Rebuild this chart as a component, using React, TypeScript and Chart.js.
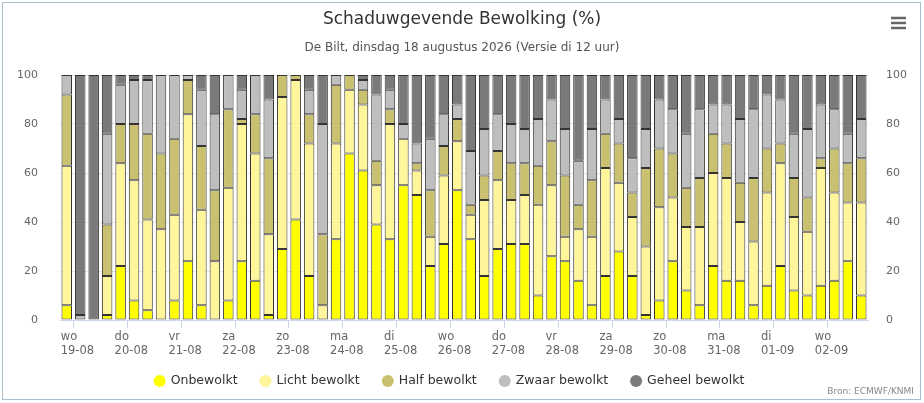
import React, { useEffect, useRef } from "react";
import { Chart, registerables } from "chart.js";
Chart.register(...registerables);

const dayLabels = ["wo", "do", "vr", "za", "zo", "ma", "di", "wo", "do", "vr", "za", "zo", "ma", "di", "wo"];
const dateLabels = ["19-08", "20-08", "21-08", "22-08", "23-08", "24-08", "25-08", "26-08", "27-08", "28-08", "29-08", "30-08", "31-08", "01-09", "02-09"];

const onbewolkt = [6,0,0,2,22,8,4,0,8,24,6,0,8,24,16,2,29,41,18,0,33,68,61,39,33,55,51,22,31,53,33,18,29,31,31,10,26,24,16,6,18,28,18,2,8,24,12,6,22,16,16,6,14,22,12,10,14,16,24,10];
const licht = [57,0,0,16,42,49,37,37,35,60,39,24,46,56,52,33,62,57,54,6,39,26,27,16,47,19,10,12,28,20,10,31,28,18,20,37,29,10,21,28,44,28,24,28,38,26,26,32,38,42,24,26,38,42,30,26,48,36,24,38];
const half = [29,0,0,21,16,23,35,31,31,14,26,29,32,2,16,31,9,2,12,29,24,6,6,10,6,0,3,19,12,9,4,10,12,15,13,16,18,25,10,23,14,16,10,32,24,18,16,20,16,14,16,26,18,8,16,14,4,18,16,18];
const zwaar = [8,2,0,37,16,18,22,32,26,2,23,31,14,12,16,24,0,0,10,45,4,0,4,27,8,6,8,21,13,6,22,19,15,16,14,19,17,19,18,21,14,10,14,16,20,18,22,28,12,16,26,28,22,18,18,28,22,16,12,16];
const geheel = onbewolkt.map((v, i) => 100 - v - licht[i] - half[i] - zwaar[i]);
const yTicks = [0, 20, 40, 60, 80, 100];

const seriesNames = ["Onbewolkt", "Licht bewolkt", "Half bewolkt", "Zwaar bewolkt", "Geheel bewolkt"];
const seriesColors = ["#ffff00", "#fff59a", "#c9c170", "#bebebe", "#7a7a7a"];
const FONT = "'DejaVu Sans', Verdana, sans-serif";

export default function App() {
  const ref = useRef<HTMLCanvasElement>(null);
  useEffect(() => {
    const values = [onbewolkt, licht, half, zwaar, geheel];
    const labels = onbewolkt.map((_, i) => String(i));
    const deco = {
      id: "deco",
      afterDraw(chart: any) {
        const c = chart.ctx;
        c.save();
        c.fillStyle = "#333";
        c.textAlign = "center";
        c.textBaseline = "middle";
        c.font = `17px ${FONT}`;
        c.fillText("Schaduwgevende Bewolking (%)", 462, 20);
        c.font = `12px ${FONT}`;
        c.fillStyle = "#555";
        c.fillText("De Bilt, dinsdag 18 augustus 2026 (Versie di 12 uur)", 462, 48);
        // menu icon
        c.strokeStyle = "#666";
        c.lineWidth = 2.5;
        for (let k = 0; k < 3; k++) {
          c.beginPath();
          c.moveTo(891, 18 + k * 5);
          c.lineTo(906, 18 + k * 5);
          c.stroke();
        }
        // legend
        c.font = `12.5px ${FONT}`;
        c.textAlign = "left";
        const widths = seriesNames.map((n) => c.measureText(n).width);
        const itemW = widths.map((w) => 17 + w);
        const gap = 22;
        const total = itemW.reduce((a, b) => a + b, 0) + gap * (itemW.length - 1);
        let x = 449 - total / 2;
        seriesNames.forEach((n, i) => {
          c.fillStyle = seriesColors[i];
          c.beginPath();
          c.arc(x + 6, 381, 6, 0, Math.PI * 2);
          c.fill();
          c.fillStyle = "#333";
          c.fillText(n, x + 17, 381);
          x += itemW[i] + gap;
        });
        c.font = `9px ${FONT}`;
        c.fillStyle = "#888";
        c.textAlign = "right";
        c.fillText("Bron: ECMWF/KNMI", 914, 392);
        c.restore();
      },
    };
    const chart = new Chart(ref.current!, {
      type: "bar",
      data: {
        labels,
        datasets: values.map((d, i) => ({
          label: seriesNames[i],
          data: d,
          backgroundColor: seriesColors[i],
          borderColor: "#333",
          borderWidth: 1,
          borderSkipped: false,
          barPercentage: 0.78,
          categoryPercentage: 1,
          yAxisID: "y",
        })),
      },
      options: {
        animation: false,
        responsive: false,
        layout: { padding: { top: 75, left: 8, right: 10, bottom: 43 } },
        plugins: { legend: { display: false }, title: { display: false }, tooltip: { enabled: false } },
        scales: {
          x: {
            stacked: true,
            offset: true,
            grid: {
              offset: true,
              drawOnChartArea: false,
              color: (ctx: any) => ((ctx.index ?? 0) % 4 === 1 ? "#ccd6eb" : "rgba(0,0,0,0)"),
              tickLength: 8,
            },
            border: { color: "#ccd6eb" },
            ticks: {
              autoSkip: false,
              maxRotation: 0,
              minRotation: 0,
              align: "start",
              labelOffset: -6,
              color: "#666",
              font: { family: FONT, size: 11.5 },
              padding: 2,
              callback: (_v: any, i: number) => {
                if (i % 4 === 0) {
                  const d = Math.floor(i / 4);
                  if (d < dayLabels.length) return [dayLabels[d], dateLabels[d]];
                }
                return "";
              },
            },
            afterFit: (s: any) => { s.height = 40; },
          },
          y: {
            stacked: true,
            min: 0,
            max: 100,
            afterBuildTicks: (s: any) => { s.ticks = yTicks.map((v) => ({ value: v })); },
            grid: { color: "#e6e6e6", drawTicks: false },
            border: { display: false },
            ticks: { color: "#666", font: { family: FONT, size: 11 }, padding: 22 },
            afterFit: (s: any) => { s.width = 52; },
          },
          y2: {
            position: "right",
            min: 0,
            max: 100,
            afterBuildTicks: (s: any) => { s.ticks = yTicks.map((v) => ({ value: v })); },
            grid: { display: false },
            border: { display: false },
            ticks: { color: "#666", font: { family: FONT, size: 11 }, padding: 10 },
            afterFit: (s: any) => { s.width = 46; },
          },
        },
      } as any,
      plugins: [deco],
    });
    return () => chart.destroy();
  }, []);
  return (
    <div style={{ position: "fixed", left: 0, top: 0, width: 924, height: 403, background: "#fff" }}>
      <div style={{ position: "absolute", left: 2, top: 2, width: 917, height: 396, border: "1px solid #a9c1cf" }} />
      <canvas ref={ref} width={924} height={403} style={{ position: "absolute", left: 0, top: 0 }} />
    </div>
  );
}
